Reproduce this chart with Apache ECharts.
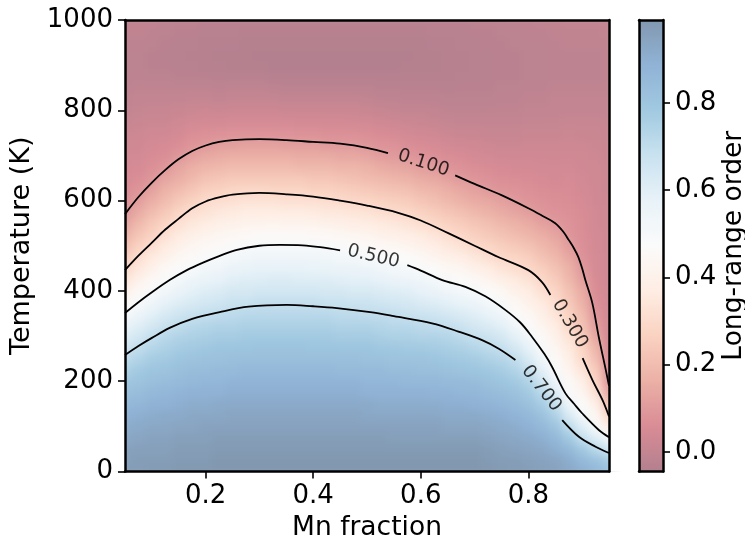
<!DOCTYPE html>
<html><head><meta charset="utf-8">
<script src="https://cdn.jsdelivr.net/npm/echarts@6/dist/echarts.min.js"></script>
<style>html,body{margin:0;padding:0;background:#fff}#chart{width:745px;height:541px}
canvas[data-zr-dom-id="zr_0"]{filter:blur(4px)}</style>
</head><body><div id="chart"></div>
<script>
// Mn fraction columns of the order-parameter map
const mnFraction = [0.05,0.075,0.1,0.125,0.15,0.175,0.2,0.225,0.25,0.275,0.3,0.325,0.35,0.375,0.4,0.425,0.45,0.475,0.5,0.525,0.55,0.575,0.6,0.625,0.65,0.675,0.7,0.725,0.75,0.775,0.8,0.825,0.85,0.875,0.9,0.925,0.95];
// Temperature rows (K)
const temperatureK = [0,25,50,75,100,125,150,175,200,225,250,275,300,325,350,375,400,425,450,475,500,525,550,575,600,625,650,675,700,725,750,775,800,825,850,875,900,925,950,975,1000];
// Long-range order: one list per Mn fraction, values along temperatureK
const longRangeOrder = [
[.97,.96,.95,.93,.91,.89,.86,.83,.79,.75,.71,.66,.61,.56,.50,.45,.40,.34,.29,.25,.21,.17,.13,.09,.075,.06,.05,.045,.04,.03,.02,.01,0,-.01,-.015,-.02,-.02,-.02,-.015,-.01,-.01],
[.97,.97,.96,.94,.92,.90,.87,.84,.81,.78,.74,.70,.65,.60,.55,.50,.45,.40,.35,.31,.27,.23,.19,.15,.11,.085,.065,.05,.04,.03,.025,.015,.005,0,-.01,-.015,-.02,-.02,-.015,-.01,-.01],
[.98,.97,.96,.95,.93,.91,.89,.86,.83,.80,.77,.73,.69,.64,.59,.54,.49,.45,.40,.36,.31,.27,.24,.20,.16,.12,.09,.07,.055,.045,.035,.02,.01,0,-.01,-.02,-.025,-.025,-.02,-.015,-.01],
[.98,.97,.96,.95,.93,.92,.89,.87,.84,.81,.78,.75,.72,.68,.63,.58,.53,.49,.45,.40,.36,.32,.28,.24,.20,.17,.13,.09,.065,.05,.035,.02,.01,0,-.01,-.02,-.025,-.03,-.025,-.02,-.015],
[.985,.98,.97,.96,.94,.92,.90,.88,.85,.83,.80,.77,.74,.70,.66,.61,.56,.52,.48,.44,.40,.36,.32,.28,.24,.20,.16,.13,.09,.065,.045,.03,.015,0,-.01,-.025,-.03,-.03,-.03,-.025,-.02],
[.985,.98,.97,.96,.94,.93,.91,.89,.86,.84,.81,.78,.75,.72,.68,.63,.59,.55,.50,.46,.43,.39,.35,.31,.27,.23,.19,.16,.12,.085,.065,.04,.02,.005,-.01,-.025,-.03,-.035,-.03,-.025,-.02],
[.985,.98,.97,.96,.95,.93,.91,.89,.87,.84,.82,.79,.76,.73,.69,.65,.61,.57,.53,.49,.45,.41,.37,.33,.30,.26,.22,.18,.14,.095,.07,.045,.025,.005,-.01,-.025,-.035,-.035,-.035,-.03,-.025],
[.99,.99,.98,.97,.95,.93,.92,.89,.87,.85,.82,.80,.77,.74,.70,.66,.62,.58,.54,.50,.46,.43,.39,.35,.31,.27,.23,.19,.15,.11,.075,.045,.02,0,-.015,-.03,-.035,-.04,-.035,-.03,-.025],
[.99,.99,.98,.97,.95,.94,.92,.90,.88,.85,.83,.80,.77,.74,.71,.68,.64,.60,.56,.52,.48,.44,.40,.36,.32,.28,.24,.20,.16,.11,.08,.05,.025,.005,-.01,-.03,-.04,-.04,-.035,-.03,-.025],
[.99,.99,.98,.97,.95,.94,.92,.90,.88,.86,.83,.80,.78,.75,.72,.68,.64,.61,.57,.53,.49,.45,.41,.37,.33,.29,.24,.20,.16,.12,.08,.05,.025,.005,-.01,-.03,-.04,-.04,-.04,-.035,-.03],
[.99,.99,.98,.97,.95,.94,.92,.90,.88,.86,.83,.81,.78,.75,.72,.69,.65,.61,.58,.54,.50,.46,.41,.37,.33,.29,.24,.20,.16,.12,.08,.05,.025,.005,-.01,-.03,-.04,-.044,-.04,-.035,-.03],
[.99,.99,.98,.97,.95,.94,.92,.90,.88,.86,.83,.81,.78,.75,.72,.69,.65,.62,.58,.54,.50,.46,.42,.37,.33,.28,.24,.20,.16,.12,.08,.05,.025,.005,-.015,-.035,-.044,-.044,-.04,-.035,-.03],
[.99,.99,.98,.97,.95,.94,.92,.90,.88,.86,.83,.81,.78,.75,.72,.69,.65,.62,.58,.54,.50,.46,.41,.37,.32,.28,.24,.20,.16,.11,.08,.05,.02,0,-.02,-.035,-.044,-.044,-.04,-.035,-.03],
[.99,.99,.98,.97,.95,.94,.92,.90,.88,.86,.83,.81,.78,.75,.72,.69,.65,.61,.58,.54,.50,.46,.41,.37,.32,.28,.24,.19,.15,.11,.075,.045,.02,0,-.02,-.035,-.044,-.044,-.04,-.035,-.03],
[.99,.99,.98,.97,.95,.94,.92,.90,.88,.86,.83,.80,.78,.75,.72,.69,.65,.61,.57,.54,.50,.45,.41,.36,.32,.27,.23,.19,.15,.11,.075,.045,.02,0,-.02,-.035,-.044,-.044,-.04,-.035,-.03],
[.99,.99,.98,.97,.95,.94,.92,.90,.88,.86,.83,.80,.78,.75,.72,.68,.64,.61,.57,.53,.49,.45,.40,.35,.31,.27,.23,.19,.15,.10,.07,.045,.02,0,-.02,-.035,-.044,-.044,-.04,-.035,-.03],
[.99,.99,.98,.97,.95,.94,.92,.90,.88,.85,.83,.80,.77,.74,.71,.68,.64,.60,.56,.52,.48,.44,.39,.35,.30,.26,.22,.18,.14,.10,.07,.045,.02,0,-.02,-.035,-.044,-.044,-.04,-.035,-.03],
[.99,.99,.98,.97,.95,.94,.92,.90,.88,.85,.83,.80,.77,.74,.71,.67,.63,.59,.56,.52,.47,.43,.38,.34,.29,.25,.21,.18,.14,.10,.07,.04,.02,0,-.02,-.035,-.044,-.044,-.04,-.035,-.03],
[.99,.99,.98,.97,.95,.93,.92,.89,.87,.85,.82,.80,.77,.74,.70,.67,.63,.59,.55,.50,.46,.42,.37,.33,.28,.24,.20,.17,.13,.09,.065,.04,.015,-.005,-.02,-.035,-.044,-.044,-.04,-.035,-.03],
[.99,.99,.98,.97,.95,.93,.91,.89,.87,.85,.82,.79,.76,.73,.70,.66,.62,.58,.53,.49,.45,.40,.36,.31,.27,.23,.19,.15,.11,.08,.055,.03,.01,-.01,-.025,-.035,-.044,-.044,-.04,-.035,-.03],
[.99,.99,.98,.96,.95,.93,.91,.89,.87,.84,.81,.79,.75,.72,.69,.65,.61,.56,.52,.48,.44,.39,.35,.30,.26,.22,.18,.14,.10,.075,.05,.025,.005,-.01,-.025,-.035,-.044,-.044,-.04,-.035,-.03],
[.99,.99,.98,.96,.95,.93,.91,.89,.86,.84,.81,.78,.75,.72,.68,.64,.60,.55,.51,.47,.42,.38,.33,.29,.25,.21,.17,.13,.09,.065,.04,.02,0,-.015,-.025,-.035,-.04,-.044,-.04,-.035,-.03],
[.99,.99,.98,.96,.95,.93,.91,.89,.86,.83,.81,.78,.74,.71,.67,.62,.58,.54,.49,.45,.40,.36,.31,.27,.23,.19,.15,.11,.08,.055,.035,.015,0,-.015,-.025,-.035,-.04,-.04,-.04,-.035,-.03],
[.99,.99,.98,.96,.95,.93,.91,.88,.86,.83,.80,.77,.74,.70,.66,.61,.56,.52,.47,.42,.38,.34,.29,.25,.21,.18,.14,.10,.07,.05,.03,.01,-.005,-.015,-.025,-.035,-.04,-.04,-.035,-.03,-.025],
[.99,.99,.98,.96,.94,.92,.90,.88,.85,.82,.79,.76,.73,.69,.64,.59,.54,.49,.44,.40,.35,.31,.27,.23,.19,.16,.12,.085,.06,.04,.02,.005,-.01,-.02,-.03,-.035,-.035,-.035,-.035,-.03,-.025],
[.99,.99,.98,.96,.94,.92,.90,.87,.85,.81,.78,.75,.71,.67,.62,.57,.52,.47,.43,.38,.33,.29,.25,.21,.17,.14,.10,.075,.055,.035,.015,0,-.01,-.02,-.025,-.03,-.035,-.035,-.03,-.03,-.025],
[.99,.99,.98,.96,.94,.92,.89,.87,.84,.80,.77,.73,.69,.64,.60,.55,.50,.45,.40,.35,.30,.26,.23,.19,.15,.12,.085,.065,.045,.03,.015,0,-.01,-.02,-.025,-.03,-.03,-.03,-.03,-.025,-.02],
[.985,.98,.97,.95,.93,.91,.88,.85,.82,.79,.75,.71,.67,.62,.57,.52,.47,.42,.37,.32,.28,.24,.21,.17,.14,.10,.075,.055,.04,.025,.01,0,-.01,-.02,-.025,-.03,-.03,-.03,-.025,-.025,-.02],
[.98,.97,.96,.94,.92,.90,.87,.84,.80,.77,.73,.69,.64,.59,.54,.49,.44,.39,.34,.29,.26,.22,.19,.15,.12,.085,.065,.05,.035,.02,.01,0,-.01,-.015,-.02,-.025,-.025,-.025,-.025,-.02,-.02],
[.975,.97,.95,.93,.91,.88,.85,.82,.78,.74,.70,.64,.59,.53,.48,.44,.40,.36,.31,.28,.24,.20,.17,.13,.10,.08,.06,.045,.035,.02,.01,0,-.01,-.015,-.02,-.025,-.025,-.025,-.02,-.02,-.015],
[.97,.96,.94,.92,.89,.86,.82,.78,.74,.69,.63,.58,.52,.48,.44,.40,.37,.33,.29,.26,.22,.18,.15,.11,.085,.07,.055,.045,.035,.025,.015,.005,-.005,-.01,-.015,-.02,-.02,-.02,-.02,-.015,-.015],
[.96,.95,.93,.90,.86,.82,.77,.72,.66,.60,.54,.49,.46,.42,.39,.36,.32,.29,.26,.22,.19,.16,.12,.09,.075,.06,.05,.04,.035,.025,.015,.005,-.005,-.01,-.015,-.02,-.02,-.02,-.02,-.015,-.01],
[.95,.94,.90,.86,.81,.75,.69,.62,.55,.49,.46,.43,.40,.37,.34,.31,.28,.25,.22,.19,.16,.13,.10,.08,.065,.055,.045,.04,.03,.025,.015,.005,0,-.005,-.01,-.015,-.015,-.015,-.015,-.01,-.01],
[.93,.91,.86,.79,.71,.63,.55,.49,.46,.42,.39,.36,.33,.29,.27,.24,.22,.19,.17,.14,.11,.09,.08,.07,.06,.055,.05,.04,.035,.025,.02,.01,0,-.005,-.01,-.015,-.015,-.015,-.01,-.01,-.005],
[.90,.86,.79,.69,.61,.52,.47,.43,.39,.34,.30,.28,.25,.22,.20,.17,.15,.12,.095,.08,.07,.065,.06,.055,.05,.045,.04,.035,.03,.025,.015,.01,0,-.005,-.01,-.015,-.015,-.015,-.01,-.01,-.005],
[.87,.82,.72,.61,.50,.44,.39,.33,.28,.25,.21,.18,.14,.11,.085,.07,.06,.055,.05,.05,.045,.045,.04,.04,.035,.035,.03,.03,.025,.02,.015,.01,0,-.005,-.01,-.015,-.015,-.015,-.01,-.01,-.005],
[.82,.77,.65,.51,.40,.29,.22,.14,.09,.075,.06,.05,.045,.04,.04,.035,.035,.03,.03,.03,.03,.03,.025,.025,.025,.02,.02,.02,.015,.015,.01,.005,0,-.005,-.01,-.01,-.01,-.01,-.01,-.005,-.005]
];
// Colour scale range (colorbar limits)
const orderMin = -0.045;
const orderMax = 0.99;
// Tick labels
const xTicks = [0.2, 0.4, 0.6, 0.8];
const colorbarTicks = [0.0, 0.2, 0.4, 0.6, 0.8];
// Contour lines [Mn fraction, T], split where the inline labels sit
const contour100a = [[0.05,570],[0.075,608],[0.1,640],[0.125,668],[0.15,692],[0.175,710],[0.2,722],[0.225,730],[0.25,734],[0.3,736],[0.35,734],[0.4,730],[0.45,726],[0.5,717],[0.539,705]];
const contour100b = [[0.664,656],[0.7,637],[0.75,612],[0.8,583],[0.825,567],[0.85,550],[0.865,531],[0.875,513],[0.885,494],[0.893,475],[0.9,450],[0.906,424],[0.919,373],[0.931,298],[0.944,225],[0.95,190]];
const contour300a = [[0.05,446],[0.075,478],[0.1,507],[0.125,536],[0.15,560],[0.175,583],[0.2,598],[0.225,607],[0.25,613],[0.3,617],[0.35,614],[0.4,609],[0.45,600],[0.5,589],[0.558,573],[0.6,556],[0.651,528],[0.7,500],[0.744,475],[0.8,446],[0.825,420],[0.841,391]];
const contour300b = [[0.901,251],[0.919,203],[0.938,158],[0.95,122]];
const contour500a = [[0.05,351],[0.075,375],[0.1,397],[0.133,424],[0.165,446],[0.194,462],[0.225,477],[0.258,491],[0.3,500],[0.338,502],[0.38,501],[0.413,497],[0.45,490]];
const contour500b = [[0.575,457],[0.6,445],[0.64,424],[0.683,409],[0.72,388],[0.757,358],[0.785,330],[0.807,298],[0.83,260],[0.844,232],[0.869,173],[0.885,150],[0.9,129],[0.931,92],[0.95,76]];
const contour700a = [[0.05,258],[0.075,278],[0.1,296],[0.133,318],[0.175,338],[0.226,353],[0.28,365],[0.351,369],[0.4,366],[0.444,362],[0.506,353],[0.55,344],[0.621,328],[0.67,310],[0.714,291],[0.745,272],[0.776,247]];
const contour700b = [[0.863,114],[0.894,77],[0.925,55],[0.95,41]];
const contourLabelText = ['0.100', '0.300', '0.500', '0.700'];
const contourLabelAt = [[0.605,683],[0.877,327],[0.512,476],[0.824,184]];
const contourLabelAngle = [-18, -60, -13, -52];

const FONT = 'DejaVu Sans';
const cells = [];
mnFraction.forEach((x, i) => temperatureK.forEach((t, j) => cells.push([x, t, longRangeOrder[i][j]])));
const dX = mnFraction[1] - mnFraction[0];
const dT = temperatureK[1] - temperatureK[0];

const palette = ['#b3808f','#d98c95','#ebb0a6','#fad2c1','#feede3','#fbfbfb','#e8f2f8','#c9e2ef','#a1c9e1','#90b3d6','#8298b0'];
const spine = {show: true, onZero: false, lineStyle: {color: '#000', width: 2.5}};
const tickStyle = {color: '#000', width: 1.6};
const txt = {color: '#000', fontFamily: FONT, fontSize: 26};

const contourSeries = [contour100a, contour100b, contour300a, contour300b, contour500a, contour500b, contour700a, contour700b].map(d => ({
  type: 'line', data: d, xAxisIndex: 0, yAxisIndex: 0, smooth: 0.35, symbol: 'none', zlevel: 1, z: 4, silent: true,
  lineStyle: {color: '#000', width: 1.8}
}));
const labelSeries = contourLabelText.map((t, k) => ({
  type: 'scatter', data: [contourLabelAt[k]], xAxisIndex: 0, yAxisIndex: 0, symbolSize: 1, zlevel: 1, z: 5, silent: true,
  itemStyle: {color: 'rgba(0,0,0,0)'},
  label: {show: true, position: 'inside', formatter: t, rotate: contourLabelAngle[k], color: '#000', textBorderWidth: 0, fontFamily: FONT, fontSize: 18.5}
}));

const chart = echarts.init(document.getElementById('chart'), null, {renderer: 'canvas'});
chart.setOption({
  animation: false,
  backgroundColor: '#fff',
  grid: [
    {left: 125, top: 20, width: 484, height: 451.5, containLabel: false, outerBoundsMode: 'none'},
    {left: 639, top: 20, width: 24, height: 451.5, containLabel: false, outerBoundsMode: 'none'}
  ],
  xAxis: [
    {type: 'value', gridIndex: 0, min: 0.05, max: 0.95, position: 'bottom', zlevel: 1, z: 10,
     axisLine: spine, splitLine: {show: false},
     axisTick: {show: true, customValues: xTicks, length: 7, lineStyle: tickStyle},
     axisLabel: Object.assign({show: true, customValues: xTicks, formatter: v => v.toFixed(1), margin: 12}, txt),
     name: 'Mn fraction', nameLocation: 'middle', nameGap: 38, nameTextStyle: Object.assign({}, txt, {fontSize: 26.5})},
    {type: 'value', gridIndex: 0, min: 0.05, max: 0.95, position: 'top', zlevel: 1, z: 10,
     axisLine: spine, splitLine: {show: false}, axisTick: {show: false}, axisLabel: {show: false}},
    {type: 'value', gridIndex: 1, min: 0, max: 1, position: 'bottom', zlevel: 1, z: 10,
     axisLine: spine, splitLine: {show: false}, axisTick: {show: false}, axisLabel: {show: false}},
    {type: 'value', gridIndex: 1, min: 0, max: 1, position: 'top', zlevel: 1, z: 10,
     axisLine: spine, splitLine: {show: false}, axisTick: {show: false}, axisLabel: {show: false}}
  ],
  yAxis: [
    {type: 'value', gridIndex: 0, min: 0, max: 1000, interval: 200, position: 'left', zlevel: 1, z: 10,
     axisLine: spine, splitLine: {show: false},
     axisTick: {show: true, length: 7, lineStyle: tickStyle},
     axisLabel: Object.assign({formatter: v => String(v), margin: 12}, txt),
     name: 'Temperature (K)', nameLocation: 'middle', nameGap: 77, nameTextStyle: Object.assign({}, txt, {fontSize: 27})},
    {type: 'value', gridIndex: 0, min: 0, max: 1000, position: 'right', zlevel: 1, z: 10,
     axisLine: spine, splitLine: {show: false}, axisTick: {show: false}, axisLabel: {show: false}},
    {type: 'value', gridIndex: 1, min: orderMin, max: orderMax, position: 'right', zlevel: 1, z: 10,
     axisLine: spine, splitLine: {show: false},
     axisTick: {show: true, customValues: colorbarTicks, length: 7, lineStyle: tickStyle},
     axisLabel: Object.assign({show: true, customValues: colorbarTicks, formatter: v => v.toFixed(1), margin: 12}, txt),
     name: 'Long-range order', nameLocation: 'middle', nameGap: 58, nameTextStyle: Object.assign({}, txt, {fontSize: 26.5})},
    {type: 'value', gridIndex: 1, min: orderMin, max: orderMax, position: 'left', zlevel: 1, z: 10,
     axisLine: spine, splitLine: {show: false}, axisTick: {show: false}, axisLabel: {show: false}}
  ],
  visualMap: {
    type: 'continuous', min: orderMin, max: orderMax, dimension: 2, seriesIndex: 0,
    calculable: false, hoverLink: false, orient: 'vertical', padding: 0,
    left: 639, top: 20, itemWidth: 24, itemHeight: 451.5,
    inRange: {color: palette}, zlevel: 1, z: 4
  },
  series: [
    {
      type: 'custom', xAxisIndex: 0, yAxisIndex: 0, data: cells, silent: true, zlevel: 0, z: 2,
      renderItem: function (params, api) {
        const x = api.value(0), t = api.value(1);
        const p0 = api.coord([x - dX / 2, t + dT / 2]);
        const p1 = api.coord([x + dX / 2, t - dT / 2]);
        return {type: 'rect', shape: {x: p0[0], y: p0[1], width: p1[0] - p0[0] + 0.7, height: p1[1] - p0[1] + 0.7},
                style: {fill: api.visual('color')}};
      }
    },
    {
      // white frame around the plotting area (hides the soft edge of the colour map)
      type: 'custom', xAxisIndex: 0, yAxisIndex: 0, data: [[0.5, 500]], silent: true, zlevel: 1, z: 1,
      renderItem: function (params) {
        const c = params.coordSys, b = 22;
        const w = {fill: '#fff'};
        return {type: 'group', children: [
          {type: 'rect', shape: {x: c.x - b, y: c.y - b, width: c.width + 2 * b, height: b}, style: w},
          {type: 'rect', shape: {x: c.x - b, y: c.y + c.height, width: c.width + 2 * b, height: b}, style: w},
          {type: 'rect', shape: {x: c.x - b, y: c.y, width: b, height: c.height}, style: w},
          {type: 'rect', shape: {x: c.x + c.width, y: c.y, width: b, height: c.height}, style: w}
        ]};
      }
    },
    ...contourSeries,
    ...labelSeries
  ]
});
</script>
</body></html>
